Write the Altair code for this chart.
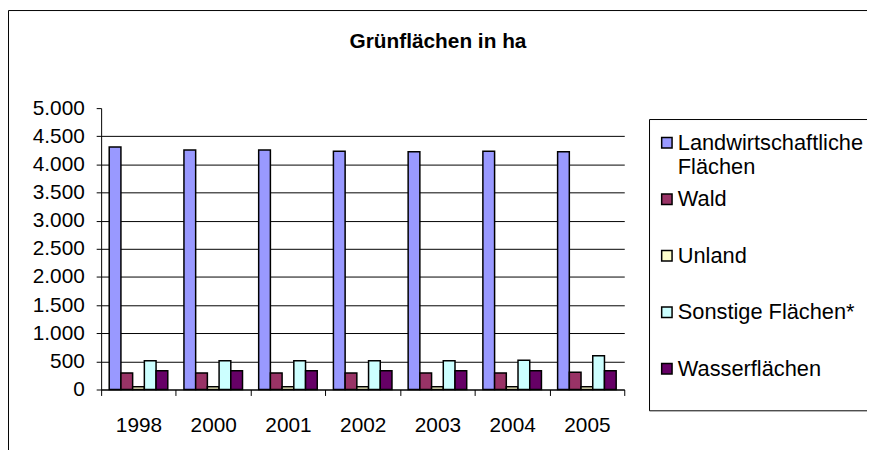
import altair as alt
import pandas as pd

years = ["1998", "2000", "2001", "2002", "2003", "2004", "2005"]
series = ["Landwirtschaftliche Flächen", "Wald", "Unland", "Sonstige Flächen*", "Wasserflächen"]
landw = [4310, 4255, 4255, 4235, 4225, 4235, 4225]
wald = [295, 295, 295, 295, 295, 295, 305]
unland = [50, 50, 50, 50, 50, 50, 50]
sonstige = [510, 510, 510, 510, 510, 520, 600]
wasser = [335, 335, 335, 335, 335, 335, 335]
colors = ["#9999FF", "#993366", "#FFFFCC", "#CCFFFF", "#660066"]
y_ticks = [0, 500, 1000, 1500, 2000, 2500, 3000, 3500, 4000, 4500, 5000]

rows = []
for s, vals in zip(series, [landw, wald, unland, sonstige, wasser]):
    for yr, v in zip(years, vals):
        rows.append({"Jahr": yr, "Serie": s, "ha": v})
df = pd.DataFrame(rows)

FONT = "Liberation Sans"

label_expr = ("datum.label == 'Landwirtschaftliche Flächen' "
              "? ['Landwirtschaftliche\u00a0\u00a0', 'Flächen'] "
              ": [datum.label, '\u00a0']")

bars = alt.Chart(df).mark_bar(stroke="black", strokeWidth=1.5).encode(
    x=alt.X("Jahr:N", sort=years,
            scale=alt.Scale(paddingInner=0, paddingOuter=0),
            axis=alt.Axis(title=None, labelAngle=0, tickBand="extent",
                          domainColor="black", tickColor="black", tickSize=6,
                          labelFontSize=21, labelPadding=19, labelColor="black",
                          grid=False)),
    xOffset=alt.XOffset("Serie:N", sort=series,
                        scale=alt.Scale(paddingInner=0, paddingOuter=0.69)),
    y=alt.Y("ha:Q", scale=alt.Scale(domain=[0, 5000], nice=False),
            axis=alt.Axis(title=None, values=y_ticks,
                          labelExpr="replace(format(datum.value, ','), ',', '.')",
                          grid=True, gridColor="black", gridWidth=1,
                          gridOpacity={"condition": {"test": "datum.value === 5000", "value": 0}, "value": 1},
                          domainColor="black", tickColor="black", tickSize=5,
                          labelFontSize=21, labelPadding=12, labelColor="black")),
    color=alt.Color("Serie:N", sort=series,
                    scale=alt.Scale(domain=series, range=colors),
                    legend=alt.Legend(title="\u00a0", titleFontSize=2, titlePadding=4,
                                      orient="none", legendX=553, legendY=11,
                                      direction="vertical", symbolType="square",
                                      symbolSize=110, symbolStrokeColor="black",
                                      symbolStrokeWidth=1.5, symbolOpacity=1,
                                      labelFontSize=22, labelColor="black",
                                      labelLimit=500, labelOffset=0,
                                      rowPadding=11, padding=7,
                                      strokeColor="black", fillColor="white",
                                      labelExpr=label_expr)),
)

frame = alt.Chart(alt.Data(values=[{"a": 1}])).mark_rect(
    fillOpacity=0, stroke="black", strokeWidth=1
).encode(x=alt.value(-93.5), x2=alt.value(900), y=alt.value(-98.5), y2=alt.value(600))

chart = alt.layer(frame, bars).properties(
    width=528, height=284,
    autosize="none",
    padding={"left": 94, "top": 99, "right": 245, "bottom": 59},
    title=alt.TitleParams("Grünflächen in ha", fontSize=21, fontWeight="bold",
                          anchor="middle", frame="group", offset=0, dy=59, dx=76,
                          baseline="alphabetic", color="black"),
).configure(font=FONT).configure_view(stroke=None)

chart.save("out.html", embed_options={"renderer": "svg", "actions": False})
